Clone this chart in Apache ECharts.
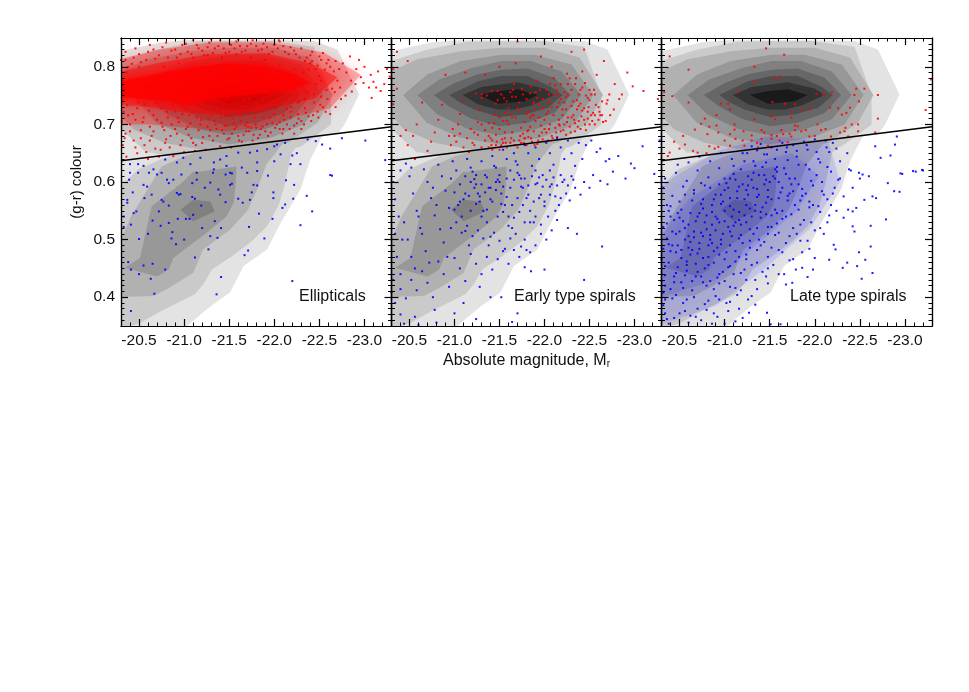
<!DOCTYPE html>
<html>
<head>
<meta charset="utf-8">
<script src="https://cdn.jsdelivr.net/npm/echarts@6/dist/echarts.min.js"></script>
<style>
  html, body { margin: 0; background: #fff; }
  #main { width: 969px; height: 692px; }
</style>
</head>
<body>
<div id="main"></div>
<script>
// every list below is flat: |Mr| x 100, (g-r) x 1000, |Mr| x 100, ...
const panelNames = ["Ellipticals", "Early type spirals", "Late type spirals"];
const magTicks = [-20.5, -21, -21.5, -22, -22.5, -23];
const colourTicks = [0.4, 0.5, 0.6, 0.7, 0.8];
const divideMag = [-20.3, -23.3];
const divideColour = [0.637, 0.696];

// density contours, same in all three panels, outermost first
const level1 = [2020,827,2029,827,2074,842,2100,846,2196,846,2244,845,2270,830,2294,752,2278,700,2271,685,2253,679,2240,639,2236,621,2229,587,2207,529,2192,483,2166,454,2151,408,2129,384,2109,358,2097,340,2020,340];
const level2Low = [2020,340,2040,350,2051,355,2071,373,2112,405,2121,422,2131,448,2153,471,2175,497,2192,523,2205,560,2212,598,2219,650,2235,680,2150,680,2075,640,2049,622,2030,593,2020,590];
const level2Top = [2020,820,2029,810,2070,830,2115,844,2196,845,2244,835,2263,751,2263,700,2230,662,2170,636,2115,634,2063,651,2058,651,2029,694,2020,694];
const level3Low = [2020,400,2066,402,2083,416,2110,442,2121,483,2151,517,2171,552,2181,587,2191,630,2212,672,2170,680,2101,645,2075,627,2066,604,2041,540,2030,500,2020,500];
const level3Top = [2020,792,2029,792,2059,813,2107,827,2152,833,2200,833,2239,816,2265,751,2248,703,2215,668,2170,651,2126,654,2078,668,2044,691,2029,717,2020,717];
const level4Low = [2034,451,2051,468,2064,558,2097,598,2110,618,2116,618,2158,627,2157,592,2155,564,2147,540,2125,512,2088,468,2083,448,2070,436];
const level4Top = [2043,751,2070,787,2107,810,2152,821,2189,821,2230,804,2254,751,2233,700,2196,677,2150,665,2107,677,2069,703];
const level5Low = [2096,552,2110,569,2129,566,2134,549,2110,532];
const level5Top = [2059,751,2083,778,2119,798,2152,810,2185,810,2219,792,2241,751,2219,709,2189,691,2150,681,2115,692,2081,717];
const level6 = [2077,751,2100,772,2126,787,2152,795,2181,797,2211,781,2229,751,2211,720,2181,703,2150,697,2119,710,2094,731];
const level7 = [2094,751,2126,775,2152,784,2181,784,2207,766,2220,751,2204,729,2178,717,2150,713,2122,726,2106,738];
const level8 = [2109,751,2130,765,2170,773,2200,762,2211,751,2185,733,2167,726,2148,726,2126,735];
const level9 = [2128,751,2145,757,2170,761,2192,751,2178,740,2148,736];

// ellipticals: where the red markers overlap almost solid, given as areas
const ellipRedSolid = [2025,775,2060,785,2110,800,2150,806,2190,802,2225,786,2240,772,2222,760,2190,754,2150,748,2125,742,2105,734,2070,742,2025,748];
const ellipRedDense = [2025,790,2070,806,2125,822,2190,824,2240,806,2270,782,2245,745,2215,735,2180,722,2145,716,2105,720,2060,730,2025,735];
const ellipRedThin = [2025,812,2073,830,2129,842,2196,842,2255,825,2296,786,2262,728,2221,712,2184,694,2147,688,2103,694,2062,700,2025,700];
// late type spirals: where the blue markers crowd, as areas
const lateBlueThin = [2025,350,2090,385,2145,450,2195,520,2228,600,2215,670,2150,680,2095,655,2045,610,2025,585];
const lateBlueDense = [2030,400,2090,430,2135,490,2180,550,2205,610,2175,650,2120,630,2060,570,2030,510];

const ellipRed = [
2328,783,2322,770,2315,792,2310,774,2305,764,2300,800,2296,782,2290,770,2286,757,2280,790,2276,806,2270,776,2264,762,2260,812,2256,795,2252,748,2250,784,2246,770,2242,826,2240,806,2236,757,2232,790,2228,740,2226,775,2220,762,2318,758,2308,746,2294,812,2284,818,2274,744,2268,730,2262,718,2254,730,2248,722,2244,738,2238,714,2234,728,2230,706,2226,718,2222,698,2218,712,2214,727,2210,692,2206,704,2200,718,2196,686,2192,700,2188,712,2184,682,2180,694,2176,672,2172,688,2168,698,2164,670,2160,680,2156,692,2152,660,2148,674,2144,684,2140,662,2136,692,2132,672,2128,680,2124,656,2120,668,2116,690,2112,654,2108,676,2104,696,2100,652,2096,664,2092,684,2088,645,2084,660,2080,674,2076,696,2072,644,2068,658,2064,680,2060,640,2056,664,2052,690,2048,650,2044,672,2040,700,2036,644,2032,664,2035,684,2031,705,2038,716,2046,708,2054,704,2062,696,2070,708,2078,690,2086,700,2094,704,2102,692,2110,668,2118,700,2126,696,2134,706,2142,690,2150,676,2158,696,2166,682,2174,694,2182,676,2190,688,2198,702,2206,692,2214,700,2222,684,2230,692,
2035,812,2042,805,2050,822,2058,812,2066,830,2072,820,2080,842,2086,828,2092,816,2098,838,2104,826,2110,846,2116,832,2122,820,2128,842,2134,832,2140,846,2146,824,2152,838,2158,844,2164,826,2170,836,2176,846,2182,828,2188,840,2194,822,2200,838,2206,844,2212,826,2218,834,2224,822,2230,832,2236,816,2242,810,2248,802,2254,824,2262,800,2268,810,2035,826,2046,832,2062,838,2130,848,2160,848,2205,846,2250,818,2272,796,
2032,770,2040,760,2036,790,2050,800,2058,770,2064,752,2070,780,2078,800,2086,760,2094,806,2102,780,2110,816,2118,760,2126,820,2134,760,2142,816,2150,730,2158,822,2166,742,2174,816,2182,735,2190,812,2198,740,2206,802,2214,740,2222,795,2230,768,2238,795,2244,752,2252,776,2258,760,2048,728,2056,735,2066,716,2074,728,2082,712,2090,722,2098,718,2106,716,2114,712,2122,722,2130,716,2138,724,2146,714,2154,710,2162,716,2170,704,2178,712,2186,724,2194,732,2202,728,2210,716,2218,722,2226,738,2234,744,
2148,745,2156,738,2164,732,2172,744,2180,736,2188,746,2196,752,2204,745,2144,732,2152,726,2160,722,2168,730,2176,726,2184,733,2192,728,2200,738,
2033,722,2037,733,2043,718,2049,738,2055,712,2061,724,2068,737,2075,703,2081,722,2087,733,2093,712,2100,726,2107,702,2113,725,2119,708,2127,710,2135,700,2141,712,2147,698,2155,702,2163,706,2171,696,2179,700,2187,696,2195,712,2203,700,2211,708,2219,730,2227,710,2235,720,2243,716,2251,734,2259,744,2267,756,2273,764,2279,750,2285,776,2291,796,2299,772,2307,786,2313,764,2325,796,
2034,676,2040,688,2046,660,2052,676,2058,652,2062,672,2066,688,2074,656,2079,668,2085,680,2090,692,2098,672,2105,682,2113,664,2121,678,2129,690,2137,680,2145,698,2153,684,2161,672,2169,688,2177,682,2185,692,2193,680,2201,694,2209,684,2217,692,2225,702,2233,700,2241,706,2249,712,2257,722,
2030,812,2038,800,2044,816,2052,808,2060,826,2068,814,2076,834,2082,816,2090,830,2096,822,2102,840,2108,822,2114,838,2120,828,2126,834,2132,824,2138,836,2144,832,2150,826,2156,832,2162,836,2168,828,2174,840,2180,836,2186,830,2192,834,2198,826,2204,832,2210,836,2216,822,2222,828,2228,816,2234,810,2240,820,2246,796,2252,812,2258,806,2266,792];

const ellipBlue = [
2264,611,2242,549,2236,576,2229,525,2222,595,2221,571,2212,561,2209,555,2213,603,2198,536,2199,582,2199,572,2193,611,2189,502,2183,545,2220,428,2171,481,2167,473,2141,435,2136,405,2172,522,2181,594,2177,595,2175,582,2173,569,2165,564,2160,571,2151,595,2153,597,2146,565,2138,587,2140,578,2134,532,2141,520,2137,503,2129,506,2127,483,2112,469,2120,520,2119,559,2112,571,2109,574,2110,543,2106,536,2102,536,2093,536,2100,500,2091,492,2086,502,2087,513,2083,529,2074,524,2072,549,2065,533,2060,510,2050,501,2083,559,2077,566,2075,569,2094,578,2092,581,2096,579,2064,578,2056,572,2043,582,2037,569,2037,564,2047,549,2044,546,2041,526,2033,522,2033,540,2038,461,2041,448,2055,455,2065,458,2079,448,2050,440,2063,432,2067,406,2041,376,2109,598,2114,604,2123,590,2129,599,2132,616,2146,613,2151,616,2153,615,2170,616,2181,619,2097,613,2088,604,2081,604,2083,598,2070,613,2061,616,2049,616,2059,592,2055,595,2039,604,2040,616,
2301,672,2275,676,2262,658,2253,665,2246,671,2237,674,2225,650,2220,646,2212,668,2203,665,2200,662,2192,657,2181,654,2173,651,2160,651,2147,645,2140,639,2133,634,2118,642,2099,642,2092,634,2079,639,2066,622,2055,628,2049,631,2040,631,2229,631,2218,631,2262,612,2323,638,2181,634,2164,625,2147,628,2133,622,2114,616,2107,631,2075,616,2200,636,2207,648];

const earlyRed = [
2330,770,2326,744,2310,758,2298,766,2292,790,2286,752,2278,770,2270,742,2266,810,2262,716,2258,786,2254,720,2252,752,2248,710,2244,830,2242,792,2240,760,2238,732,2234,702,2230,826,2228,780,2226,752,2222,738,2220,716,2216,700,2212,768,2208,800,2206,742,2204,722,2200,692,2196,818,2192,776,2190,756,2188,738,2184,712,2182,690,2178,676,2170,844,2168,806,2166,770,2164,748,2160,728,2158,706,2156,686,2154,668,2150,800,2148,758,2146,736,2144,716,2142,694,2140,676,2138,660,2134,786,2130,752,2128,726,2126,704,2122,686,2120,668,2116,652,2112,790,2110,742,2106,718,2104,700,2100,680,2096,664,2090,786,2086,734,2082,708,2078,686,2074,670,2070,654,2064,738,2058,700,2054,680,2048,664,2036,826,2048,810,2032,796,2030,780,2036,762,2032,735,2046,690,2040,680,2056,640,
2124,754,2130,746,2136,750,2142,758,2148,742,2152,752,2158,740,2162,756,2168,748,2172,738,2176,752,2180,744,2184,754,2188,736,2192,746,2198,728,2204,736,2210,752,2214,730,2218,744,2224,726,2230,712,2236,742,2244,728,2250,742,2256,716,2260,730,
2130,700,2134,690,2138,680,2142,672,2146,682,2150,692,2152,664,2156,676,2160,700,2162,668,2164,686,2168,712,2170,660,2172,672,2174,694,2176,684,2178,704,2180,664,2182,678,2184,696,2186,670,2188,688,2190,706,2192,666,2194,680,2196,698,2198,674,2200,708,2202,686,2204,672,2206,700,2208,680,2210,716,2212,694,2214,678,2216,708,2218,688,2220,726,2222,700,2224,682,2226,712,2228,696,2230,732,2232,716,2234,688,2236,726,2238,706,2240,692,2242,724,2244,708,2246,690,2248,722,2250,700,2252,716,2256,700,2260,708,2264,716,2268,706,
2094,680,2098,692,2102,670,2106,684,2110,660,2114,676,2118,692,2122,664,2126,682,2130,660,2134,672,2138,702,2142,656,2146,664,2150,656,2154,706,2158,660,2162,718,2166,672,2170,728,2174,668,2178,676,2182,722,2186,716,2190,726,2194,734,2198,744,2202,760,2206,770,2210,780,2214,760,2218,770,2222,756,2226,770,2230,760,2234,770,2238,752,2242,764,2246,750,2250,760,
2141,664,2147,670,2153,674,2157,668,2163,676,2167,664,2173,680,2177,668,2181,688,2185,676,2189,664,2193,672,2197,686,2201,670,2205,692,2209,676,2213,686,2217,698,2221,690,2225,704,2229,686,2233,708,2237,696,2241,714,2245,700,2249,730,2253,706,2257,734,2261,722,2265,704,2269,736,2273,716,2277,726,2283,744,
2144,702,2150,712,2156,720,2164,712,2172,724,2180,718,2188,716,2194,712,2202,718,2208,730,2216,738,2224,748,2232,740,2240,736,2248,746,2256,752,2264,740,2272,752,2155,746,2165,760,2175,762,2185,766,2195,760,2205,752,2215,752,2225,788,2235,780,2245,772,2255,760];

const earlyBlue = [
2328,672,2309,662,2296,632,2282,645,2272,640,2268,636,2262,658,2258,652,2252,672,2246,664,2242,640,2238,668,2234,628,2230,650,2226,672,2222,640,2218,660,2214,676,2210,630,2206,650,2202,668,2198,612,2194,640,2190,660,2186,628,2182,650,2178,664,2174,606,2170,630,2166,650,2162,620,2158,640,2154,656,2150,600,2146,625,2142,645,2138,590,2134,612,2130,636,2126,580,2122,605,2118,625,2114,640,2110,570,2106,596,2102,620,2098,636,2094,555,2090,585,2086,610,2082,630,2078,542,2074,572,2070,600,2066,622,2062,520,2058,550,2054,580,2050,610,2046,632,2042,500,2038,540,2034,570,2032,600,2040,620,2052,625,
2322,614,2300,624,2290,606,2276,618,2270,596,2262,602,2254,612,2250,590,2244,600,2240,578,2234,590,2230,610,2228,568,2224,580,2220,600,2216,560,2212,575,2208,596,2206,620,2204,540,2200,558,2196,578,2192,598,2190,620,2188,530,2184,550,2180,572,2176,590,2172,612,2168,636,2164,520,2160,540,2156,560,2152,580,2148,604,2144,628,2140,505,2136,530,2132,550,2128,575,2124,596,2120,618,2116,490,2112,515,2108,540,2104,560,2100,582,2096,606,2092,470,2088,495,2084,518,2080,560,2076,590,2072,460,2068,480,2064,510,2060,540,2056,450,2052,470,2048,500,2044,530,2040,440,2036,470,2034,510,
2264,488,2244,430,2236,510,2226,520,2214,534,2208,516,2202,500,2196,510,2190,490,2184,478,2178,500,2172,470,2166,482,2160,458,2154,480,2148,466,2142,448,2136,470,2130,440,2124,458,2118,475,2112,428,2106,450,2100,468,2094,418,2088,440,2082,462,2076,400,2070,425,2064,445,2058,412,2052,430,2046,398,2040,414,2034,390,2032,430,2030,408,2140,400,2128,418,2110,390,2170,372,2152,400,2124,362,2100,372,2078,378,2056,366,2040,370,2044,354,2060,352,2080,356,2164,357,2200,448,2185,445,2178,452,
2112,610,2118,600,2124,612,2130,596,2136,608,2140,590,2146,600,2150,612,2154,592,2158,606,2162,590,2166,604,2170,616,2174,592,2178,606,2182,594,2186,610,2190,596,2194,608,2198,592,2202,604,2206,592,2210,608,2214,594,2218,612,2222,604,2226,594,2232,604,2116,576,2122,590,2128,566,2134,582,2140,570,2146,586,2152,562,2158,574,2164,560,2170,572,2176,560,2182,578,2188,566,2194,572,2200,566,2206,578,2212,550,2218,572,2100,552,2106,566,2112,580,2118,550,2124,562,2130,540,2136,552,2142,566,2148,540,2154,548,2160,524,2166,538,2172,548,2178,530,2184,530,2190,540,2196,526,2096,520,2102,530,2108,512,2114,524,2120,506,2126,516,2132,502,2138,490,2144,512,2150,498,2156,484,2162,502,2168,510,2174,488,2180,482];

const lateRed = [
2146,832,2166,821,2039,818,2060,795,2133,800,2133,775,2157,779,2162,783,2115,757,2033,756,2042,749,2060,738,2329,778,2323,725,2270,751,2255,762,2246,762,2244,751,2249,740,2219,756,2202,753,2209,751,2153,739,2167,736,2178,735,2174,722,2185,726,2194,729,2217,729,2226,728,2239,729,2235,720,2230,717,2270,710,2248,700,2241,700,2234,694,2233,688,2228,686,2248,688,2096,736,2104,736,2106,726,2091,716,2078,710,2074,701,2091,698,2083,696,2067,691,2081,683,2093,686,2054,680,2044,670,2056,665,2065,654,2070,651,2039,651,2037,645,2050,658,2080,650,2083,662,2089,658,2093,661,2106,683,2111,691,2111,700,2133,709,2152,714,2156,709,2174,712,2181,697,2178,690,2185,688,2174,679,2163,690,2152,681,2141,690,2130,681,2121,688,2130,672,2141,675,2152,675,2161,672,2170,669,2148,663,2137,660,2122,663,2106,663,2112,675,2194,679,2203,700,2207,690,2218,679,2237,679,2267,686,2165,683,2158,680,2172,684,2178,698,2120,672,2100,672,2190,690,2200,680,2212,692,2144,686,2136,668];

const lateBlue = [
2281,598,2288,584,2294,583,2279,535,2264,442,2262,488,2262,524,2256,465,2252,432,2247,454,2249,478,2244,514,2242,523,2268,572,2264,575,2255,569,2242,549,2237,552,2246,555,2249,616,2253,613,2260,610,2297,614,2312,618,2320,620,2236,460,2231,451,2216,465,2223,483,2221,491,2200,468,2198,448,2186,451,2192,435,2179,448,2175,425,2168,422,2162,353,2151,353,2147,373,2134,387,2127,373,2120,364,2319,621,2309,619,2295,615,2291,679,2289,665,2284,646,2273,642,2267,662,
2220,668,2212,672,2200,674,2188,670,2176,664,2164,668,2152,660,2140,666,2130,662,2236,650,2228,636,2216,652,2204,640,2192,656,2180,644,2168,652,2156,640,2144,648,2132,636,2120,650,2108,640,2096,650,2084,636,2072,644,2060,634,2048,630,2250,606,2238,622,2226,604,2214,626,2202,612,2190,630,2178,606,2166,624,2154,610,2142,626,2130,604,2118,622,2106,606,2094,624,2082,608,2070,620,2058,602,2046,616,2034,606,2222,590,2210,578,2198,594,2186,576,2174,596,2162,582,2150,600,2138,578,2126,594,2114,584,2102,598,2090,578,2078,594,2066,580,2054,592,2042,576,2032,590,2218,560,2206,548,2194,566,2182,552,2170,568,2158,546,2146,564,2134,550,2122,570,2110,552,2098,566,2086,548,2074,562,2062,546,2050,566,2038,550,2232,538,2214,530,2200,516,2188,534,2176,520,2164,536,2152,522,2140,538,2128,518,2116,534,2104,522,2092,536,2080,518,2068,532,2056,520,2044,534,2032,522,2210,510,2192,498,2180,510,2168,494,2156,508,2144,496,2132,510,2120,494,2108,506,2096,492,2084,508,2072,494,2060,506,2048,490,2036,502,
2186,478,2172,464,2160,482,2148,470,2136,482,2124,466,2112,480,2100,466,2088,480,2076,468,2064,482,2052,468,2040,480,2030,466,2166,440,2154,456,2142,444,2130,456,2118,442,2106,454,2094,440,2082,456,2070,444,2058,456,2046,442,2034,454,2148,424,2136,414,2124,430,2112,416,2100,428,2088,414,2076,426,2064,412,2052,426,2040,414,2030,428,2126,396,2114,404,2102,390,2090,402,2078,388,2066,400,2054,390,2042,398,2032,386,2104,376,2092,366,2080,378,2068,366,2056,376,2044,364,2034,372,2112,358,2086,354,2060,356,2038,354,
2156,622,2144,612,2132,590,2160,600,2148,586,2136,574,2124,560,2112,604,2100,586,2088,570,2076,554,2064,568,2052,552,2040,540,2122,542,2110,524,2098,510,2086,526,2074,512,2062,496,2050,514,2038,492,2118,508,2106,490,2094,474,2082,490,2070,476,2058,462,2046,478,2034,438,2104,452,2092,434,2080,420,2068,436,2056,438,2044,426,2032,408,2178,560,2168,540,2158,528,2148,510,2138,500,2128,486,2116,470,2172,606,2164,590,2152,570,2142,556,2130,540,2118,526,2108,540,2100,550,2094,530,2090,516,2084,500,2078,530,2072,546,2066,504,2060,486,2054,532,2048,546,2042,514,2036,560,2158,618,2146,604,2138,612,2126,610,2116,592,2106,572,2096,578,2126,578,2134,560,2146,544,2156,552,2170,576,2182,596,2190,580,2198,560,2208,600,2214,570,2224,550,2232,575,2228,606,2242,590,2240,620,
2125,650,2136,655,2147,648,2158,656,2169,660,2180,654,2191,664,2202,652,2213,660,2224,658,2110,628,2122,636,2134,628,2146,634,2158,626,2170,638,2182,630,2194,622,2206,634,2218,618,2100,606,2110,614,2120,596,2132,616,2144,596,2156,606,2168,614,2176,584,2186,588,2196,602,2208,584,2220,580,2074,598,2084,590,2094,596,2104,590,2114,572,2124,586,2136,588,2148,574,2160,572,2172,580,2184,568,2194,556,2204,558,2216,542,2056,578,2066,586,2076,570,2086,560,2096,562,2106,558,2116,548,2128,554,2140,548,2152,542,2164,550,2174,544,2184,526,2196,530,2206,520,2040,558,2050,538,2060,526,2070,540,2080,542,2090,540,2100,532,2112,530,2124,530,2136,520,2148,522,2160,512,2172,506,2184,498,2194,484,2036,528,2046,510,2056,500,2066,514,2076,506,2086,494,2096,500,2106,514,2116,502,2128,498,2140,490,2152,486,2164,478,2176,466,2032,484,2042,490,2052,482,2062,474,2072,484,2082,470,2092,486,2102,478,2112,462,2124,474,2136,460,2148,450,2160,440,2038,460,2048,452,2058,446,2068,458,2078,450,2088,460,2098,444,2110,440,2122,448,2134,430,2146,436,2034,420,2044,436,2054,416,2064,428,2074,436,2084,428,2094,424,2106,418,2118,412,2130,402,2034,396,2046,404,2058,396,2070,380,2082,394,2094,396,2106,392,2116,380,2036,362,2050,372,2062,368,2074,360,2088,372,2100,354];

const contourGreys = ["#e3e3e3", "#cacaca", "#b1b1b1", "#989898", "#808080", "#676767", "#4e4e4e", "#333333", "#1a1a1a"];
const contours = [
  [level1, 0], [level2Low, 1], [level2Top, 1], [level3Low, 2], [level3Top, 2],
  [level4Low, 3], [level4Top, 3], [level5Low, 4], [level5Top, 4],
  [level6, 5], [level7, 6], [level8, 7], [level9, 8],
];

const toPoints = (flat) => {
  const out = [];
  for (let i = 0; i < flat.length; i += 2) {
    out.push([-flat[i] / 100, flat[i + 1] / 1000]);
  }
  return out;
};

const fontName = "Liberation Sans";
const grids = [
  { left: 121, top: 38, width: 270.5, height: 288 },
  { left: 391.5, top: 38, width: 270, height: 288 },
  { left: 661.5, top: 38, width: 270.5, height: 288 },
];

// filled polygons given in data units
const areaSeries = (p, items) => ({
  type: "custom",
  coordinateSystem: "cartesian2d",
  xAxisIndex: p * 4,
  yAxisIndex: p * 4,
  clip: true,
  silent: true,
  animation: false,
  z: items[0].z || 1,
  data: items.map((d, i) => [-21, 0.6, i]),
  renderItem: (params, api) => {
    const item = items[params.dataIndex];
    return {
      type: "polygon",
      shape: { points: toPoints(item.flat).map((pt) => api.coord(pt)) },
      style: { fill: item.fill, shadowBlur: item.blur || 0, shadowColor: item.shade || "transparent" },
    };
  },
});

const dotSeries = (p, flat, color) => ({
  type: "scatter",
  xAxisIndex: p * 4,
  yAxisIndex: p * 4,
  symbol: "rect",
  symbolSize: 2,
  silent: true,
  animation: false,
  itemStyle: { color: color, opacity: 0.9 },
  z: 4,
  data: toPoints(flat),
});

// one axis for the long ticks (and labels), one for the short ticks, on each side
const makeAxes = (dim, p) => {
  const isX = dim === "x";
  const ticks = isX ? magTicks : colourTicks;
  const sides = isX ? ["bottom", "top"] : ["left", "right"];
  const range = isX ? { min: -23.3, max: -20.3, inverse: true } : { min: 0.35, max: 0.85 };
  const out = [];
  sides.forEach((side, s) => {
    const hasLabel = s === 0 && (isX || p === 0);
    const base = {
      type: "value",
      gridIndex: p,
      position: side,
      z: 6,
      ...range,
      splitLine: { show: false },
      axisLine: { show: true, onZero: false, lineStyle: { color: "#000", width: 1.2 } },
    };
    const major = {
      ...base,
      axisTick: { show: true, inside: true, length: 7, customValues: ticks, lineStyle: { color: "#000", width: 1.2 } },
      axisLabel: {
        show: hasLabel,
        customValues: ticks,
        formatter: (v) => v.toFixed(1),
        fontFamily: fontName,
        fontSize: 15.5,
        color: "#111",
        margin: isX ? 7 : 6,
      },
    };
    if (isX && s === 0 && p === 1) {
      major.name = "Absolute magnitude, M{sub|r}";
      major.nameLocation = "middle";
      major.nameGap = 27;
      major.nameTextStyle = {
        fontFamily: fontName,
        fontSize: 16,
        color: "#111",
        rich: { sub: { fontFamily: fontName, fontSize: 10, color: "#111", verticalAlign: "bottom", padding: [6, 0, 0, 0] } },
      };
    }
    if (!isX && s === 0 && p === 0) {
      major.name = "(g-r) colour";
      major.nameLocation = "middle";
      major.nameGap = 37;
      major.nameTextStyle = { fontFamily: fontName, fontSize: 15, color: "#111" };
    }
    const minor = {
      ...base,
      interval: isX ? 0.1 : 0.01,
      axisTick: { show: true, inside: true, length: 3.5, lineStyle: { color: "#000", width: 1 } },
      axisLabel: { show: false },
    };
    out.push(major, minor);
  });
  return out;
};

const series = [];
[0, 1, 2].forEach((p) => {
  series.push(areaSeries(p, contours.map(([flat, lev]) => ({ flat, fill: contourGreys[lev] }))));
  if (p === 0) {
    series.push(areaSeries(p, [
      { flat: ellipRedThin, fill: "rgba(255,0,0,0.3)", blur: 14, shade: "rgba(255,0,0,0.6)", z: 2 },
      { flat: ellipRedDense, fill: "rgba(255,0,0,0.45)", blur: 12, shade: "rgba(255,0,0,0.8)", z: 2 },
      { flat: ellipRedSolid, fill: "rgba(255,0,0,0.7)", blur: 10, shade: "rgba(255,0,0,1)", z: 2 },
    ]));
  }
  if (p === 2) {
    series.push(areaSeries(p, [
      { flat: lateBlueThin, fill: "rgba(0,0,255,0.1)", blur: 16, shade: "rgba(0,0,255,0.6)", z: 2 },
      { flat: lateBlueDense, fill: "rgba(0,0,255,0.1)", blur: 14, shade: "rgba(0,0,255,0.6)", z: 2 },
    ]));
  }
  series.push(dotSeries(p, [ellipRed, earlyRed, lateRed][p], "#ff0000"));
  series.push(dotSeries(p, [ellipBlue, earlyBlue, lateBlue][p], "#0000ff"));
  series.push({
    type: "line",
    xAxisIndex: p * 4,
    yAxisIndex: p * 4,
    showSymbol: false,
    silent: true,
    animation: false,
    z: 5,
    lineStyle: { color: "#000", width: 1.6 },
    data: divideMag.map((m, i) => [m, divideColour[i]]),
  });
});

const chart = echarts.init(document.getElementById("main"));
chart.setOption({
  animation: false,
  backgroundColor: "#fff",
  grid: grids,
  xAxis: [0, 1, 2].flatMap((p) => makeAxes("x", p)),
  yAxis: [0, 1, 2].flatMap((p) => makeAxes("y", p)),
  series: series,
  graphic: panelNames.map((name, i) => ({
    type: "text",
    x: [299, 514, 790][i],
    y: 297,
    z: 10,
    style: { text: name, fontFamily: fontName, fontSize: 16, fill: "#111", textVerticalAlign: "middle" },
  })),
});
</script>
</body>
</html>
